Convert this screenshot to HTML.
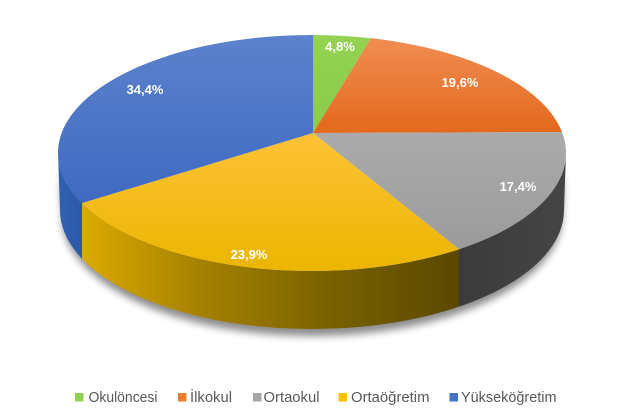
<!DOCTYPE html>
<html>
<head>
<meta charset="utf-8">
<style>
  html,body{margin:0;padding:0;background:#fff;}
  body{width:621px;height:410px;overflow:hidden;}
  svg{display:block;}
</style>
</head>
<body>
<svg width="621" height="410" viewBox="0 0 621 410" xmlns="http://www.w3.org/2000/svg">
  <defs>
    <filter id="blur" x="-10%" y="-10%" width="120%" height="130%">
      <feGaussianBlur stdDeviation="4"/>
    </filter>
    <linearGradient id="gBlueTop" gradientUnits="userSpaceOnUse" x1="0" y1="35" x2="0" y2="250">
      <stop offset="0" stop-color="#5d82cd"/>
      <stop offset="1" stop-color="#3563bd"/>
    </linearGradient>
    <linearGradient id="gOrangeTop" gradientUnits="userSpaceOnUse" x1="0" y1="38" x2="0" y2="135">
      <stop offset="0" stop-color="#f08d52"/>
      <stop offset="1" stop-color="#e3681c"/>
    </linearGradient>
    <linearGradient id="gGreenTop" gradientUnits="userSpaceOnUse" x1="0" y1="35" x2="0" y2="133">
      <stop offset="0" stop-color="#94d252"/>
      <stop offset="1" stop-color="#8cca4c"/>
    </linearGradient>
    <linearGradient id="gGrayTop" gradientUnits="userSpaceOnUse" x1="0" y1="130" x2="0" y2="250">
      <stop offset="0" stop-color="#ababab"/>
      <stop offset="1" stop-color="#9b9b9b"/>
    </linearGradient>
    <linearGradient id="gYellowTop" gradientUnits="userSpaceOnUse" x1="0" y1="133" x2="0" y2="272">
      <stop offset="0" stop-color="#fdc236"/>
      <stop offset="1" stop-color="#ebb600"/>
    </linearGradient>
    <linearGradient id="gYellowSide" gradientUnits="userSpaceOnUse" x1="82" y1="0" x2="459" y2="0">
      <stop offset="0" stop-color="#dcaa00"/>
      <stop offset="0.3" stop-color="#a78300"/>
      <stop offset="0.65" stop-color="#7a6200"/>
      <stop offset="1" stop-color="#5a4800"/>
    </linearGradient>
    <linearGradient id="gBlueSide" gradientUnits="userSpaceOnUse" x1="58" y1="0" x2="82" y2="0">
      <stop offset="0" stop-color="#3061b3"/>
      <stop offset="1" stop-color="#2c58a6"/>
    </linearGradient>
    <linearGradient id="gGraySide" gradientUnits="userSpaceOnUse" x1="459" y1="0" x2="566" y2="0">
      <stop offset="0" stop-color="#3b3b3b"/>
      <stop offset="1" stop-color="#454545"/>
    </linearGradient>
    <clipPath id="cBlue"><rect x="0" y="0" width="82" height="410"/></clipPath>
    <clipPath id="cYellow"><rect x="82" y="0" width="377" height="410"/></clipPath>
    <clipPath id="cGray"><rect x="459" y="0" width="200" height="410"/></clipPath>
  </defs>

  <!-- shadow -->
  <path d="M60,160 A252,119 0 0 0 564,160 L562,213 A250,119 0 0 1 62,213 Z"
        fill="#000" opacity="0.45" filter="url(#blur)" transform="translate(0,4)"/>

  <!-- side walls -->
  <g>
    <path clip-path="url(#cBlue)" d="M58,153 A254,118 0 0 0 566,153 L564,210 A252,119 0 0 1 60,210 Z" fill="url(#gBlueSide)"/>
    <path clip-path="url(#cYellow)" d="M58,153 A254,118 0 0 0 566,153 L564,210 A252,119 0 0 1 60,210 Z" fill="url(#gYellowSide)"/>
    <path clip-path="url(#cGray)" d="M58,153 A254,118 0 0 0 566,153 L564,210 A252,119 0 0 1 60,210 Z" fill="url(#gGraySide)"/>
  </g>

  <!-- top face slices -->
  <path d="M313,133 L313,35 A254,118 0 0 1 371,38.2 Z" fill="url(#gGreenTop)"/>
  <path d="M313,133 L371,38.2 A254,118 0 0 1 562,132.1 Z" fill="url(#gOrangeTop)"/>
  <path d="M313,133 L562,132.1 A254,118 0 0 1 459,249.2 Z" fill="url(#gGrayTop)"/>
  <path d="M313,133 L459,249.2 A254,118 0 0 1 82,203.1 Z" fill="url(#gYellowTop)"/>
  <path d="M313,133 L82,203.1 A254,118 0 0 1 313,35 Z" fill="url(#gBlueTop)"/>

  <!-- data labels -->
  <g font-family="Liberation Sans, Arial, sans-serif" font-weight="bold" font-size="13" fill="#ffffff" text-anchor="middle">
    <text x="340" y="51">4,8%</text>
    <text x="460" y="87">19,6%</text>
    <text x="518" y="191">17,4%</text>
    <text x="249" y="259">23,9%</text>
    <text x="145" y="94">34,4%</text>
  </g>

  <!-- legend -->
  <g>
    <rect x="75" y="393" width="8.5" height="8.5" fill="#92d050"/>
    <rect x="178" y="393" width="8.5" height="8.5" fill="#ed7d31"/>
    <rect x="253" y="393" width="8.5" height="8.5" fill="#a5a5a5"/>
    <rect x="338.5" y="393" width="8.5" height="8.5" fill="#ffc000"/>
    <rect x="449.5" y="393" width="8.5" height="8.5" fill="#4472c4"/>
  </g>
  <g font-family="Liberation Sans, Arial, sans-serif" font-size="15" fill="#595959">
    <text x="88.5" y="402" textLength="69" lengthAdjust="spacingAndGlyphs">Okulöncesi</text>
    <text x="190" y="402" textLength="42" lengthAdjust="spacingAndGlyphs">İlkokul</text>
    <text x="263.5" y="402" textLength="56" lengthAdjust="spacingAndGlyphs">Ortaokul</text>
    <text x="351" y="402" textLength="78.5" lengthAdjust="spacingAndGlyphs">Ortaöğretim</text>
    <text x="461" y="402" textLength="95.5" lengthAdjust="spacingAndGlyphs">Yükseköğretim</text>
  </g>
</svg>
</body>
</html>
